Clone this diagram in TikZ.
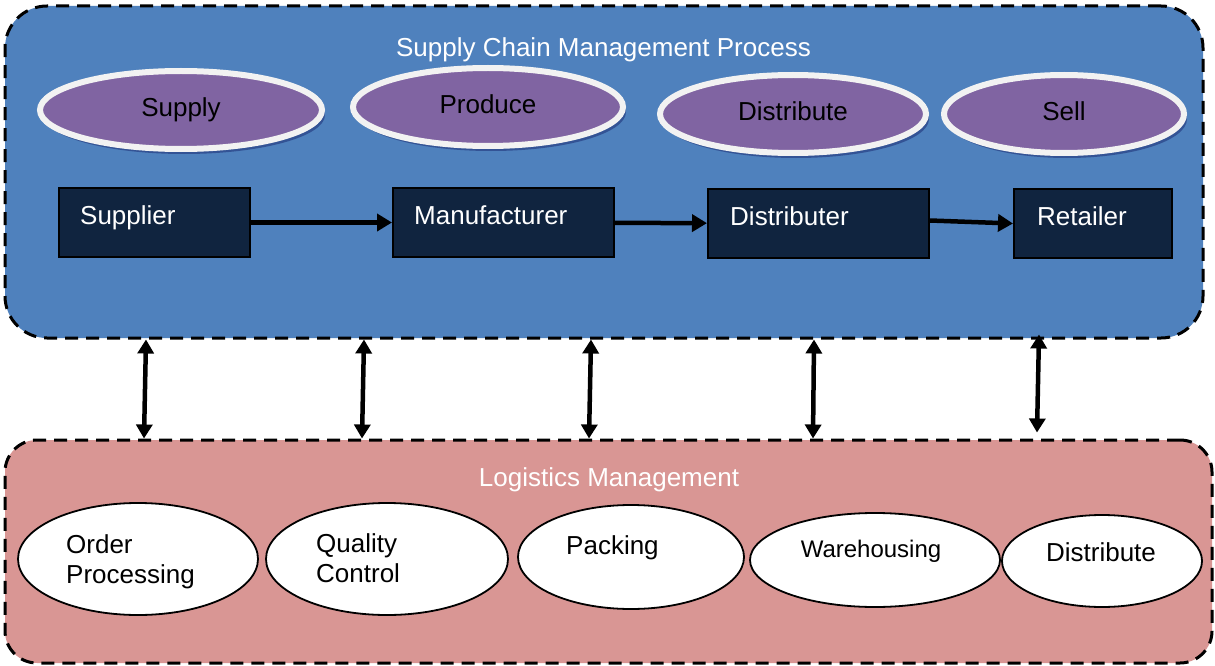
\documentclass[tikz,border=0pt]{standalone}
\usepackage{fontspec}
\setmainfont{Liberation Sans}
\usetikzlibrary{arrows.meta,shapes.geometric,shadows,calc}
\definecolor{scmblue}{HTML}{4F81BD}
\definecolor{navybox}{HTML}{10243F}
\definecolor{purpfill}{HTML}{8064A2}
\definecolor{pinkbg}{HTML}{D99694}
\definecolor{ringw}{HTML}{F2F2F2}
\begin{document}
\begin{tikzpicture}[x=1pt,y=-1pt,
  container/.style={rectangle, draw=black, line width=3pt, dash pattern=on 13pt off 8pt, inner sep=0pt},
  stage/.style={ellipse, draw=ringw, line width=6pt, fill=purpfill, inner sep=0pt, minimum height=78pt,
    text height=19pt, text depth=6.5pt, font=\fontsize{26}{30}\selectfont,
    drop shadow={shadow xshift=3pt, shadow yshift=-5pt, fill=black!70!blue, opacity=0.35}},
  actor/.style={rectangle, draw=black, line width=2pt, fill=navybox, inner sep=0pt, minimum height=69pt},
  wtext/.style={text=white, inner sep=0pt, font=\fontsize{26}{30}\selectfont},
  btext/.style={text=black, inner sep=0pt, align=left, font=\fontsize{26}{30}\selectfont},
  task/.style={ellipse, draw=black, line width=1.8pt, fill=white, inner sep=0pt},
  flow/.style={line width=4.5pt, -{Triangle[length=15pt,width=17pt]}},
  link/.style={line width=4.5pt, {Triangle[length=14pt,width=16pt]}-{Triangle[length=14pt,width=16pt]}}
]
\useasboundingbox[fill=white] (0,0) rectangle (1215,666);

% containers
\node[container, fill=scmblue, rounded corners=42pt, minimum width=1198pt, minimum height=332pt] (top) at (604,172) {};
\node[container, fill=pinkbg, rounded corners=32pt, minimum width=1207pt, minimum height=223pt] (bot) at (608.5,551.5) {};

% titles
\node[wtext, anchor=base] (ttop) at (603.5,57) {Supply Chain Management Process};
\node[wtext, anchor=base] (tbot) at (609,486) {Logistics Management};

% top stages
\node[stage, minimum width=282pt] (supply) at (181,110) {Supply};
\node[stage, minimum width=270pt] (produce) at (488,107) {Produce};
\node[stage, minimum width=266pt] (distr) at (793,114) {Distribute};
\node[stage, minimum width=240pt] (sell) at (1064,114) {Sell};

% actors
\node[actor, minimum width=191pt] (sup) at (154.5,222.5) {};
\node[actor, minimum width=221pt] (man) at (503.5,222.5) {};
\node[actor, minimum width=221pt] (dis) at (818.5,223.5) {};
\node[actor, minimum width=158pt] (ret) at (1093,223.5) {};
\node[wtext, anchor=base west] (supt) at (80,224) {Supplier};
\node[wtext, anchor=base west] (mant) at (414,224) {Manufacturer};
\node[wtext, anchor=base west] (dist) at (730,225) {Distributer};
\node[wtext, anchor=base west] (rett) at (1037,225) {Retailer};

\draw[flow] (sup) -- (man);
\draw[flow] (man) -- (dis);
\draw[flow] ([yshift=3pt]dis.east) -- (ret.west);

% logistics tasks
\node[task, minimum width=240pt, minimum height=112pt] (op) at (138,559) {};
\node[task, minimum width=242pt, minimum height=112pt] (qc) at (387,559) {};
\node[task, minimum width=226pt, minimum height=104pt] (pk) at (631,557) {};
\node[task, minimum width=250pt, minimum height=94pt] (wh) at (875,560) {};
\node[task, minimum width=200pt, minimum height=92pt] (ds) at (1102,561) {};
\node[btext, anchor=west] (opt) at (66,561.3) {Order\\Processing};
\node[btext, anchor=west] (qct) at (316,558.5) {Quality\\Control};
\node[btext, anchor=base west] (pkt) at (566,554) {Packing};
\node[btext, anchor=base, font=\fontsize{24}{28}\selectfont] (wht) at (871,557) {Warehousing};
\node[btext, anchor=base] (dst) at (1101,561) {Distribute};

% links between the two levels
\draw[link] (top.south -| 146,0) -- (bot.north -| 144,0);
\draw[link] (top.south -| 364,0) -- (bot.north -| 362,0);
\draw[link] (top.south -| 591,0) -- (bot.north -| 589,0);
\draw[link] (top.south -| 814,0) -- (bot.north -| 813,0);
\draw[link] ($(top.south -| 1039,0)+(0,-5)$) -- ($(bot.north -| 1037,0)+(0,-6)$);
\end{tikzpicture}
\end{document}
